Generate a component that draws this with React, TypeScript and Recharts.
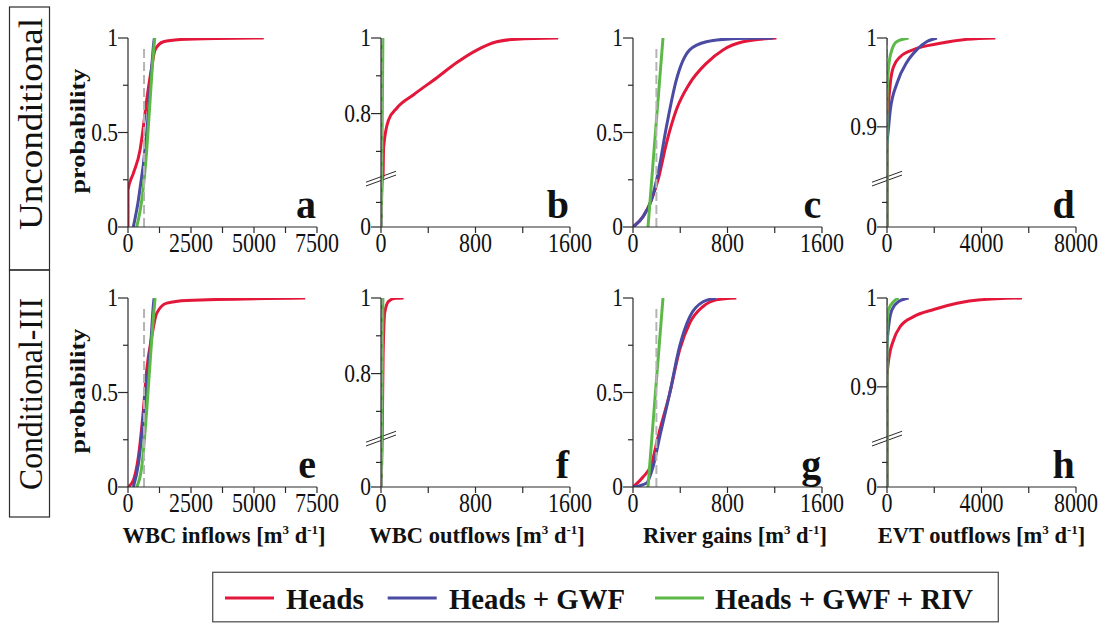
import React from 'react';
import { LineChart, Line, XAxis, YAxis, ReferenceLine } from 'recharts';

const FONT = '"Liberation Serif", "Times New Roman", serif';

const SERIES_NAMES = ['Heads', 'Heads + GWF', 'Heads + GWF + RIV'];
const SERIES_COLORS = ['#e3173a', '#4b4ba3', '#5cb947'];
const REF_COLOR = '#b4b4b4';

// CDF points as [flow, probability]
// a - WBC inflows, unconditional
const aHeads = [[0, 0], [1, 0.196], [212, 0.284], [478, 0.407], [610, 0.531], [743, 0.672], [943, 0.848], [1075, 0.937], [1406, 0.98], [2070, 0.992], [3500, 0.998], [5386, 1]];
const aGwf = [[211, 0], [410, 0.14], [744, 0.5], [943, 0.85], [1035, 0.99], [1050, 1]];
const aRiv = [[346, 0], [545, 0.14], [744, 0.41], [876, 0.67], [983, 0.88], [1062, 1]];
// b - WBC outflows, unconditional
const bHeads = [[0, 0], [12, 0.5], [17, 0.633], [22, 0.71], [64, 0.783], [135, 0.815], [276, 0.85], [473, 0.895], [642, 0.935], [811, 0.968], [980, 0.99], [1149, 0.997], [1500, 1]];
const bGwf = [[0, 0], [4, 0.9], [8, 1]];
const bRiv = [[0, 0], [6, 0.5], [11, 0.8], [16, 1]];
// c - river gains, unconditional
const cHeads = [[0, 0], [85, 0.055], [156, 0.143], [212, 0.249], [283, 0.443], [367, 0.62], [480, 0.76], [621, 0.866], [762, 0.937], [931, 0.98], [1214, 1]];
const cGwf = [[0, 0], [85, 0.055], [156, 0.143], [212, 0.284], [283, 0.53], [367, 0.778], [480, 0.937], [621, 0.98], [818, 0.995], [1185, 1]];
const cRiv = [[127, 0], [190, 0.5], [254, 1]];
// d - EVT outflows, unconditional
const dHeads = [[0, 0], [1, 0.87], [20, 0.9], [140, 0.949], [282, 0.968], [564, 0.979], [1128, 0.987], [2258, 0.994], [3386, 0.9985], [4585, 1]];
const dGwf = [[0, 0], [1, 0.877], [70, 0.9], [140, 0.919], [423, 0.949], [846, 0.973], [1270, 0.987], [1693, 0.996], [2116, 1]];
const dRiv = [[0, 0], [1, 0.93], [70, 0.968], [211, 0.987], [423, 0.996], [917, 1]];
// e - WBC inflows, conditional-III
const eHeads = [[0, 0], [212, 0.036], [411, 0.159], [610, 0.407], [743, 0.62], [943, 0.796], [1141, 0.92], [1539, 0.973], [2335, 0.987], [7034, 1]];
const eGwf = [[212, 0], [411, 0.12], [677, 0.46], [903, 0.76], [1035, 0.995], [1045, 1]];
const eRiv = [[346, 0], [545, 0.106], [744, 0.41], [903, 0.71], [1008, 0.9], [1075, 1]];
// f - WBC outflows, conditional-III
const fHeads = [[0, 0], [10, 0.5], [18, 0.85], [22, 0.898], [31, 0.96], [64, 0.991], [120, 0.999], [191, 1]];
const fGwf = [[0, 0], [4, 0.9], [8, 1]];
const fRiv = [[0, 0], [6, 0.5], [11, 0.8], [16, 1]];
// g - river gains, conditional-III
const gHeads = [[0, 0], [85, 0.053], [156, 0.12], [212, 0.265], [311, 0.496], [395, 0.726], [480, 0.867], [593, 0.955], [706, 0.99], [875, 1]];
const gGwf = [[0, 0], [113, 0.02], [169, 0.106], [226, 0.265], [311, 0.496], [395, 0.745], [480, 0.9], [593, 0.98], [706, 1]];
const gRiv = [[127, 0], [190, 0.5], [254, 1]];
// h - EVT outflows, conditional-III
const hHeads = [[0, 0], [1, 0.911], [70, 0.93], [282, 0.953], [564, 0.968], [1128, 0.979], [1975, 0.987], [2963, 0.994], [3951, 0.998], [5714, 1]];
const hGwf = [[0, 0], [1, 0.945], [70, 0.968], [211, 0.987], [494, 0.996], [917, 1]];
const hRiv = [[0, 0], [1, 0.968], [70, 0.987], [282, 0.996], [494, 1]];

// reference value (grey dashed) [flow, top probability]
const refValues = {
  a: [637, 0.954], b: [4, 1], c: [198, 0.954], d: [2, 1],
  e: [637, 0.955], f: [4, 1], g: [198, 0.955], h: [2, 1],
};

const ticksInflow = [0, 1250, 2500, 3750, 5000, 6250, 7500];
const labelsInflow = [0, 2500, 5000, 7500];
const ticks1600 = [0, 400, 800, 1200, 1600];
const labels1600 = [0, 800, 1600];
const ticksEvt = [0, 2000, 4000, 6000, 8000];
const labelsEvt = [0, 4000, 8000];

// y ticks in probability units; labelled ones have text
const yTicksLin = [[0, '0'], [0.25, ''], [0.5, '0.5'], [0.75, ''], [1, '1']];
const yTicksB = [[0, '0'], [0.25, ''], [0.7, ''], [0.8, '0.8'], [0.9, ''], [1, '1']];
const yTicksD = [[0, '0'], [0.25, ''], [0.9, '0.9'], [0.95, ''], [1, '1']];

const rowLabels = ['Unconditional', 'Conditional-III'];
const xTitles = ['WBC inflows', 'WBC outflows', 'River gains', 'EVT outflows'];

const PLOT_LEFT = [128, 381, 633.3, 886.7];
const PLOT_TOP = [38, 298];
const PW = 189;
const PH = 189;
const YW = 60;
const XH = 40;
const MT = 22;
const MR = 26;

// broken y axis: lower part squeezed, upper part stretched
function toDisp(p: number, mode: string) {
  if (mode === 'lin') return p;
  const slope = mode === 'b' ? 2 : 4.7;
  const d = 1 - (1 - p) * slope;
  if (d >= 0.26) return d;
  return Math.min(p * 0.52, 0.26);
}

const PANELS = [
  { key: 'a', row: 0, col: 0, mode: 'lin', xMax: 7500, xt: ticksInflow, xl: labelsInflow, yt: yTicksLin, s: [aHeads, aGwf, aRiv] },
  { key: 'b', row: 0, col: 1, mode: 'b', xMax: 1600, xt: ticks1600, xl: labels1600, yt: yTicksB, s: [bHeads, bGwf, bRiv] },
  { key: 'c', row: 0, col: 2, mode: 'lin', xMax: 1600, xt: ticks1600, xl: labels1600, yt: yTicksLin, s: [cHeads, cGwf, cRiv] },
  { key: 'd', row: 0, col: 3, mode: 'd', xMax: 8000, xt: ticksEvt, xl: labelsEvt, yt: yTicksD, s: [dHeads, dGwf, dRiv] },
  { key: 'e', row: 1, col: 0, mode: 'lin', xMax: 7500, xt: ticksInflow, xl: labelsInflow, yt: yTicksLin, s: [eHeads, eGwf, eRiv] },
  { key: 'f', row: 1, col: 1, mode: 'b', xMax: 1600, xt: ticks1600, xl: labels1600, yt: yTicksB, s: [fHeads, fGwf, fRiv] },
  { key: 'g', row: 1, col: 2, mode: 'lin', xMax: 1600, xt: ticks1600, xl: labels1600, yt: yTicksLin, s: [gHeads, gGwf, gRiv] },
  { key: 'h', row: 1, col: 3, mode: 'd', xMax: 8000, xt: ticksEvt, xl: labelsEvt, yt: yTicksD, s: [hHeads, hGwf, hRiv] },
];

const AXIS = '#2b2b2b';

function XTick(props: any) {
  const { x, y, payload, labels } = props;
  const show = labels.includes(payload.value);
  return (
    <g>
      <line x1={x} x2={x} y1={y} y2={y + 6} stroke={AXIS} strokeWidth={1.2} />
      {show && (
        <text transform={`translate(${x},${y + 25}) scale(1,1.2)`} textAnchor="middle" fontFamily={FONT} fontSize={22} fill="#111">
          {payload.value}
        </text>
      )}
    </g>
  );
}

function YTick(props: any) {
  const { x, y, payload, ticks, mode } = props;
  const t = ticks.find((tk: any) => Math.abs(toDisp(tk[0], mode) - payload.value) < 1e-6);
  const label = t ? t[1] : '';
  const len = label ? 10 : 5;
  return (
    <g>
      <line x1={x - len} x2={x} y1={y} y2={y} stroke={AXIS} strokeWidth={1.2} />
      {label && (
        <text transform={`translate(${x - 10},${y + 8}) scale(1,1.15)`} textAnchor="end" fontFamily={FONT} fontSize={21.5} fill="#111">
          {label}
        </text>
      )}
    </g>
  );
}

function Panel({ cfg }: any) {
  const left = PLOT_LEFT[cfg.col];
  const top = PLOT_TOP[cfg.row];
  const ref = (refValues as any)[cfg.key];
  const dx = (cfg.xMax * 15) / PW;
  return (
    <div style={{ position: 'absolute', left: left - YW, top: top - MT }}>
      <LineChart width={YW + PW + MR} height={MT + PH + XH} margin={{ top: MT, right: MR, bottom: 0, left: 0 }} style={{ overflow: 'visible' }}>
        <XAxis
          type="number"
          dataKey="x"
          domain={[0, cfg.xMax]}
          ticks={cfg.xt}
          interval={0}
          tickSize={0}
          tickMargin={0}
          tickLine={false}
          height={XH}
          allowDataOverflow
          axisLine={{ stroke: AXIS, strokeWidth: 1.2 }}
          tick={(p: any) => <XTick {...p} labels={cfg.xl} />}
        />
        <YAxis
          type="number"
          domain={[0, 1]}
          ticks={cfg.yt.map((t: any) => toDisp(t[0], cfg.mode))}
          interval={0}
          tickSize={0}
          tickMargin={0}
          tickLine={false}
          width={YW}
          allowDataOverflow
          axisLine={{ stroke: AXIS, strokeWidth: 1.2 }}
          tick={(p: any) => <YTick {...p} ticks={cfg.yt} mode={cfg.mode} />}
        />
        {cfg.mode !== 'lin' && (
          <ReferenceLine
            segment={[{ x: -dx, y: 0.217 }, { x: dx, y: 0.275 }]}
            stroke={AXIS}
            strokeWidth={1}
            ifOverflow="visible"
          />
        )}
        {cfg.mode !== 'lin' && (
          <ReferenceLine
            segment={[{ x: -dx, y: 0.237 }, { x: dx, y: 0.295 }]}
            stroke={AXIS}
            strokeWidth={1}
            ifOverflow="visible"
          />
        )}
        {cfg.s.map((pts: number[][], i: number) => (
          <Line
            key={i}
            data={pts.map(([x, p]) => ({ x, y: toDisp(p, cfg.mode) }))}
            dataKey="y"
            type="monotone"
            stroke={SERIES_COLORS[i]}
            strokeWidth={3}
            dot={false}
            activeDot={false}
            isAnimationActive={false}
          />
        ))}
        <Line
          data={[{ x: ref[0], y: 0 }, { x: ref[0], y: toDisp(ref[1], cfg.mode) }]}
          dataKey="y"
          type="linear"
          stroke={REF_COLOR}
          strokeWidth={2}
          strokeDasharray="9 4"
          dot={false}
          activeDot={false}
          isAnimationActive={false}
        />
      </LineChart>
    </div>
  );
}

function Overlay() {
  const titleCenters = [224, 477, 735, 981.5];
  const legendX = [225, 387.7, 655];
  const legendText = [286, 449, 715];
  const legendLen = [78, 176, 258];
  return (
    <svg width={1103} height={623} style={{ position: 'absolute', left: 0, top: 0, pointerEvents: 'none' }} fontFamily={FONT}>
      {/* row label boxes */}
      <rect x={9.5} y={7} width={40} height={263} fill="none" stroke={AXIS} strokeWidth={1.2} />
      <rect x={9.5} y={270} width={40} height={247} fill="none" stroke={AXIS} strokeWidth={1.2} />
      <text transform="translate(42,124) rotate(-90)" textAnchor="middle" fontSize={33} textLength={212} lengthAdjust="spacingAndGlyphs" fill="#111">
        {rowLabels[0]}
      </text>
      <text transform="translate(42,394) rotate(-90)" textAnchor="middle" fontSize={33} textLength={192} lengthAdjust="spacingAndGlyphs" fill="#111">
        {rowLabels[1]}
      </text>
      {PLOT_TOP.map((t, r) => (
        <text key={r} transform={`translate(85,${t + 93}) rotate(-90)`} textAnchor="middle" fontSize={21} fontWeight="bold" textLength={125} lengthAdjust="spacingAndGlyphs" fill="#111">
          probability
        </text>
      ))}
      {PANELS.map((p) => (
        <text key={p.key} x={PLOT_LEFT[p.col] + PW - 1} y={PLOT_TOP[p.row] + PH - 9} textAnchor="end" fontSize={40} fontWeight="bold" fill="#111">
          {p.key}
        </text>
      ))}
      {xTitles.map((t, i) => (
        <text key={t} x={titleCenters[i]} y={543} textAnchor="middle" fontSize={22.5} fontWeight="bold" fill="#111">
          {t} [m<tspan dy={-9} fontSize={13}>3</tspan>
          <tspan dy={9}> d</tspan>
          <tspan dy={-9} fontSize={13}>-1</tspan>
          <tspan dy={9}>]</tspan>
        </text>
      ))}
      {/* legend */}
      <rect x={212.7} y={572.3} width={785.6} height={49.5} fill="#fff" stroke="#555" strokeWidth={1.3} />
      {SERIES_NAMES.map((n, i) => (
        <g key={n}>
          <line x1={legendX[i]} x2={legendX[i] + 49} y1={598} y2={598} stroke={SERIES_COLORS[i]} strokeWidth={3} />
          <text x={legendText[i]} y={609} fontSize={30} fontWeight="bold" textLength={legendLen[i]} lengthAdjust="spacingAndGlyphs" fill="#111">
            {n}
          </text>
        </g>
      ))}
    </svg>
  );
}

export default function App() {
  return (
    <div style={{ position: 'absolute', left: 0, top: 0, width: 1103, height: 623, background: '#fff', overflow: 'hidden' }}>
      {PANELS.map((p) => (
        <Panel key={p.key} cfg={p} />
      ))}
      <Overlay />
    </div>
  );
}
